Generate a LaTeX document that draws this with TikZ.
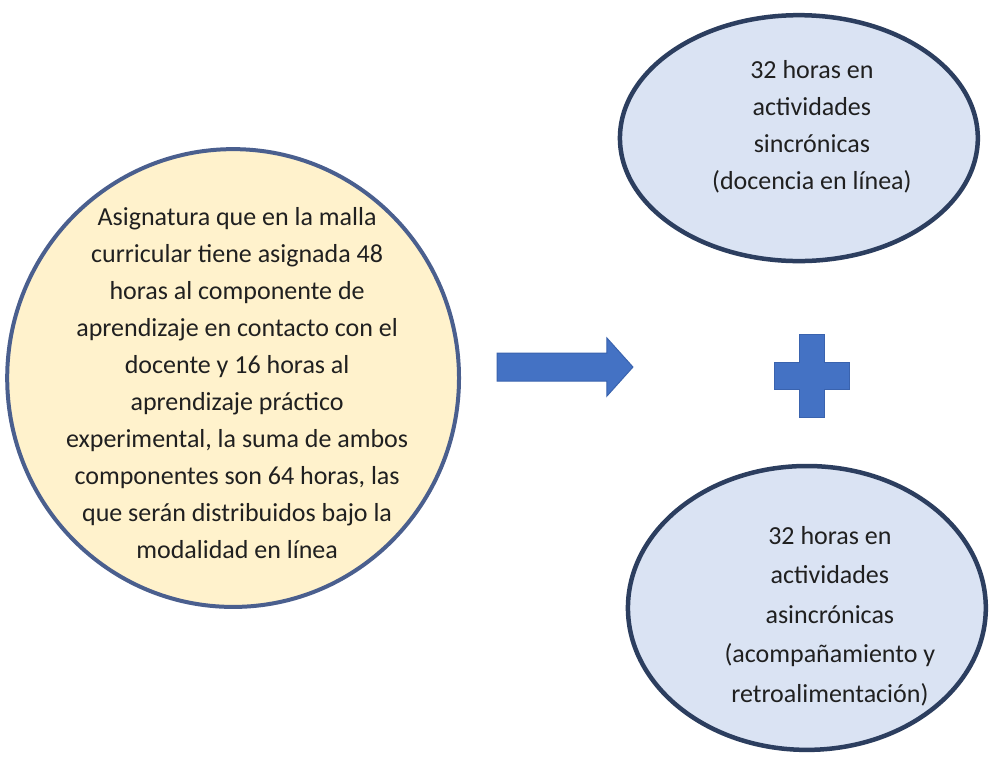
\documentclass[tikz,border=0pt]{standalone}
\usepackage{fontspec}
\setmainfont{Carlito}
\usepackage{tikz}

\definecolor{notefill}{HTML}{FFF2CC}
\definecolor{noteline}{HTML}{4A5F8E}
\definecolor{partfill}{HTML}{DAE3F3}
\definecolor{partline}{HTML}{2C3E5F}
\definecolor{markfill}{HTML}{4472C4}
\definecolor{markline}{HTML}{3A63AE}
\definecolor{inktext}{HTML}{202020}

\tikzset{
  bodytext/.style={align=center, text=inktext, inner sep=0pt,
    font=\fontsize{26}{37}\selectfont},
  markshape/.style={fill=markfill, draw=markline, line width=1pt, line join=miter}
}

\begin{document}
\begin{tikzpicture}[x=1pt,y=1pt]
\filldraw[color=white] (0.000000, 0.000000) rectangle (990.000000, 756.000000);
% Drawing shapes
% Left: the subject
\draw[fill=notefill, draw=noteline, line width=4pt] (233.000000, 378.000000) ellipse (226.000000 and 229.000000);
% Right top: synchronous part
\draw[fill=partfill, draw=partline, line width=4.5pt] (799.000000, 618.000000) ellipse (179.000000 and 123.000000);
% Right bottom: asynchronous part
\draw[fill=partfill, draw=partline, line width=4.5pt] (807.000000, 148.000000) ellipse (179.000000 and 142.000000);
% Done with shapes; drawing marks
% Block arrow
\draw[markshape] (497.000000, 403.000000) -- (607.000000, 403.000000) -- (607.000000, 418.000000) -- (633.000000, 389.000000) -- (607.000000, 360.000000) -- (607.000000, 375.000000) -- (497.000000, 375.000000) -- cycle;
% Plus sign
\draw[markshape] (800.000000, 422.000000) -- (825.000000, 422.000000) -- (825.000000, 394.000000) -- (850.000000, 394.000000) -- (850.000000, 367.000000) -- (825.000000, 367.000000) -- (825.000000, 339.000000) -- (800.000000, 339.000000) -- (800.000000, 367.000000) -- (775.000000, 367.000000) -- (775.000000, 394.000000) -- (800.000000, 394.000000) -- cycle;
% Done with marks; drawing texts
\node[bodytext] (subject) at (237.000000, 373.000000) {Asignatura que en la malla\\curricular tiene asignada 48\\horas al componente de\\aprendizaje en contacto con el\\docente y 16 horas al\\aprendizaje práctico\\experimental, la suma de ambos\\componentes son 64 horas, las\\que serán distribuidos bajo la\\modalidad en línea};
\node[bodytext] (sync) at (812.000000, 629.000000) {32 horas en\\actividades\\sincrónicas\\(docencia en línea)};
\node[bodytext, font=\fontsize{26}{39.5}\selectfont] (async) at (830.000000, 140.000000) {32 horas en\\actividades\\asincrónicas\\(acompañamiento y\\retroalimentación)};
% Done with texts
\end{tikzpicture}
\end{document}
